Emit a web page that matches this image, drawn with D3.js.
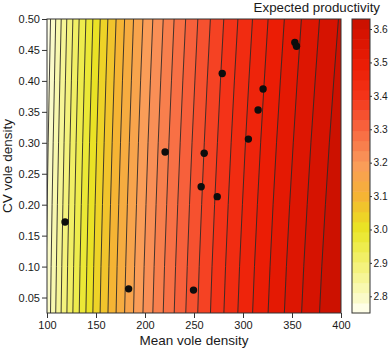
<!DOCTYPE html>
<html>
<head>
<meta charset="utf-8">
<script src="https://cdn.jsdelivr.net/npm/d3@7"></script>
<style>
  body { margin: 0; background: #fff; }
  svg text { font-family: "Liberation Sans", Arial, Helvetica, sans-serif; fill: #1a1a1a; }
  .axis path { display: none; }
  .axis line { stroke: #333; }
  .axis text { font-size: 11px; }
  .key text { font-size: 10.2px; }
</style>
</head>
<body>
<div id="graph"></div>
<script>
// observed sites
var meanDensity = [118.4, 183.3, 249.5, 220.5, 260.4, 257.3, 273.7, 278.8, 305.5, 315.4, 320.5, 352.9, 354.6];
var cvDensity   = [0.172, 0.064, 0.062, 0.285, 0.283, 0.229, 0.213, 0.412, 0.306, 0.353, 0.387, 0.462, 0.456];

// contour levels of expected productivity (30 levels, 29 bands)
var levels = [2.750, 2.780, 2.811, 2.841, 2.871, 2.902, 2.932, 2.962, 2.993, 3.023,
              3.053, 3.084, 3.114, 3.145, 3.175, 3.205, 3.236, 3.266, 3.296, 3.327,
              3.357, 3.387, 3.418, 3.448, 3.478, 3.509, 3.539, 3.569, 3.600, 3.630];

// CV rows at which each contour line's mean density was read
var lineCV = [0.025, 0.1, 0.2, 0.3, 0.4, 0.5];

// mean density where contour line k (levels[k]) crosses each CV row, k = 1..28
var contourX = [
  [ 98.6,  99.2, 100.2, 101.2, 102.4, 103.6],
  [103.6, 104.2, 105.2, 106.3, 107.6, 108.9],
  [108.9, 109.6, 110.6, 111.8, 113.1, 114.5],
  [114.4, 115.1, 116.2, 117.4, 118.8, 120.2],
  [120.3, 121.0, 122.2, 123.5, 124.9, 126.4],
  [126.4, 127.2, 128.4, 129.7, 131.2, 132.8],
  [132.9, 133.7, 135.0, 136.4, 138.0, 139.7],
  [139.7, 140.6, 141.9, 143.4, 145.1, 146.8],
  [146.8, 147.7, 149.1, 150.7, 152.4, 154.3],
  [154.2, 155.1, 156.6, 158.3, 160.1, 162.1],
  [162.2, 163.2, 164.8, 166.5, 168.4, 170.5],
  [170.5, 171.5, 173.2, 175.0, 177.0, 179.2],
  [179.2, 180.3, 182.0, 184.0, 186.1, 188.3],
  [188.3, 189.4, 191.3, 193.3, 195.5, 197.9],
  [197.9, 199.1, 201.0, 203.1, 205.5, 208.0],
  [208.0, 209.3, 211.3, 213.5, 216.0, 218.6],
  [218.6, 219.9, 222.1, 224.4, 227.0, 229.7],
  [229.8, 231.2, 233.4, 235.9, 238.6, 241.5],
  [241.6, 243.1, 245.4, 248.0, 250.9, 253.9],
  [253.8, 255.3, 257.8, 260.5, 263.5, 266.7],
  [266.8, 268.4, 271.0, 273.9, 277.0, 280.4],
  [280.5, 282.2, 284.9, 287.9, 291.2, 294.8],
  [294.7, 296.5, 299.4, 302.5, 306.0, 309.7],
  [309.8, 311.7, 314.7, 318.0, 321.7, 325.6],
  [325.6, 327.6, 330.7, 334.2, 338.1, 342.2],
  [342.2, 344.3, 347.6, 351.3, 355.3, 359.6],
  [359.8, 362.0, 365.5, 369.3, 373.6, 378.1],
  [378.1, 380.4, 384.1, 388.1, 392.6, 397.4]
];

// palette of the key
var colorStops = [2.75, 2.80, 2.90, 3.00, 3.05, 3.10, 3.20, 3.30, 3.40, 3.50, 3.60, 3.63];
var colorHex   = ['#fffff4', '#fafac4', '#f3f172', '#e9e624', '#efcd28', '#f5b434',
                  '#fa9a5c', '#f7663f', '#f43418', '#ea1b04', '#d21200', '#c71000'];

var xTicks   = [100, 150, 200, 250, 300, 350, 400];
var yTicks   = [0.05, 0.10, 0.15, 0.20, 0.25, 0.30, 0.35, 0.40, 0.45, 0.50];
var keyTicks = [2.8, 2.9, 3.0, 3.1, 3.2, 3.3, 3.4, 3.5, 3.6];


var margin = { top: 19, left: 47 };
var width  = 294;
var height = 294;

var xScale = d3.scaleLinear().domain([100, 400]).range([0, width]);
var yScale = d3.scaleLinear().domain([0.025, 0.5]).range([height, 0]);

var colour = d3.scaleLinear().domain(colorStops).range(colorHex).interpolate(d3.interpolateRgb);
var bandColour = function (k) { return colour((levels[k] + levels[k + 1]) / 2); };

var svg = d3.select('div#graph')
            .append('svg')
            .attr('width', 388)
            .attr('height', 350);

var plot = svg.append('g')
              .attr('transform', 'translate(' + margin.left + ',' + margin.top + ')');

plot.append('clipPath')
    .attr('id', 'clip')
    .append('rect')
    .attr('width', width)
    .attr('height', height);

// rows top-first so the curve sees increasing pixel y
var rows = function (k) {
    return lineCV.map(function (cv, j) { return { cv: cv, m: contourX[k][j] }; }).reverse();
};

var area = d3.area()
             .y(function (d) { return yScale(d.cv); })
             .x0(function (d) { return xScale(d.m); })
             .x1(width)
             .curve(d3.curveMonotoneY);

var line = d3.line()
             .y(function (d) { return yScale(d.cv); })
             .x(function (d) { return xScale(d.m); })
             .curve(d3.curveMonotoneY);

var field = plot.append('g').attr('clip-path', 'url(#clip)');

field.append('rect')
     .attr('width', width)
     .attr('height', height)
     .attr('fill', bandColour(0));

for (var k = 0; k < contourX.length; k++)
{
    field.append('path')
         .datum(rows(k))
         .attr('d', area)
         .attr('fill', bandColour(k + 1))
         .attr('stroke', bandColour(k + 1))
         .attr('stroke-width', 0.5);
}

for (var k = 0; k < contourX.length; k++)
{
    field.append('path')
         .datum(rows(k))
         .attr('d', line)
         .attr('fill', 'none')
         .attr('stroke', '#2e2a28')
         .attr('stroke-width', 0.9);
}

// sites
plot.selectAll('circle.site')
    .data(meanDensity)
    .enter()
    .append('circle')
    .attr('class', 'site')
    .attr('cx', function (d) { return xScale(d); })
    .attr('cy', function (d, i) { return yScale(cvDensity[i]); })
    .attr('r', 3.7)
    .attr('fill', '#0d0d0d');

plot.append('rect')
    .attr('width', width)
    .attr('height', height)
    .attr('fill', 'none')
    .attr('stroke', '#333')
    .attr('stroke-width', 1);

plot.append('g')
    .attr('class', 'axis')
    .attr('transform', 'translate(0,' + height + ')')
    .call(d3.axisBottom(xScale).tickValues(xTicks).tickSize(5).tickPadding(3));

plot.append('g')
    .attr('class', 'axis')
    .call(d3.axisLeft(yScale).tickValues(yTicks).tickFormat(d3.format('.2f')).tickSize(5).tickPadding(2));

// axis titles
svg.append('text')
   .attr('x', margin.left + width / 2)
   .attr('y', 345)
   .style('text-anchor', 'middle')
   .style('font-size', '13.5px')
   .text('Mean vole density');

svg.append('text')
   .attr('transform', 'translate(12,' + (margin.top + height / 2) + ') rotate(-90)')
   .style('text-anchor', 'middle')
   .style('font-size', '13.5px')
   .text('CV vole density');

// colour key
var keyX = 352, keyW = 18;
var keyScale = d3.scaleLinear().domain([levels[0], levels[levels.length - 1]]).range([height, 0]);

var key = svg.append('g')
             .attr('transform', 'translate(' + keyX + ',' + margin.top + ')');

key.selectAll('rect.band')
   .data(d3.range(levels.length - 1))
   .enter()
   .append('rect')
   .attr('class', 'band')
   .attr('x', 0)
   .attr('width', keyW)
   .attr('y', function (k) { return keyScale(levels[k + 1]); })
   .attr('height', function (k) { return keyScale(levels[k]) - keyScale(levels[k + 1]) + 0.5; })
   .attr('fill', function (k) { return bandColour(k); });

key.append('rect')
   .attr('width', keyW)
   .attr('height', height)
   .attr('fill', 'none')
   .attr('stroke', '#333')
   .attr('stroke-width', 1);

key.append('g')
   .attr('class', 'axis key')
   .attr('transform', 'translate(' + keyW + ',0)')
   .call(d3.axisRight(keyScale).tickValues(keyTicks).tickFormat(d3.format('.1f')).tickSize(2).tickPadding(1.5));

svg.append('text')
   .attr('x', 380)
   .attr('y', 12)
   .style('text-anchor', 'end')
   .style('font-size', '13.3px')
   .text('Expected productivity');
</script>
</body>
</html>
